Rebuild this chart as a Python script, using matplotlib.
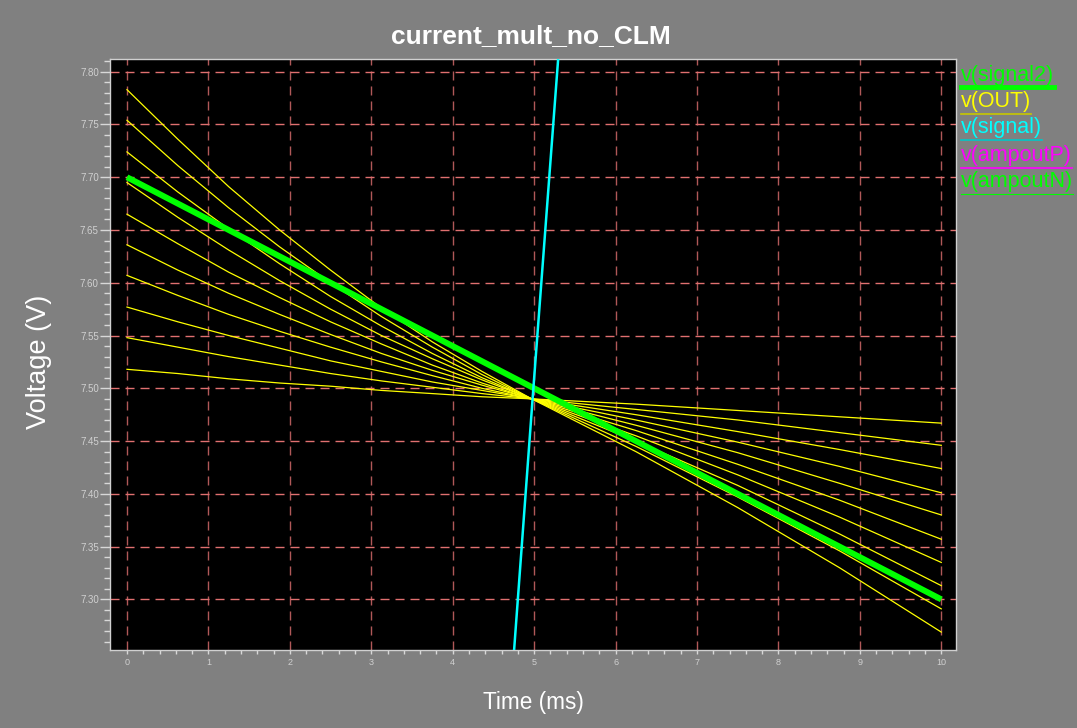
import matplotlib
matplotlib.use('Agg')
import matplotlib.pyplot as plt
from matplotlib.lines import Line2D
import numpy as np

plt.rcParams['font.family'] = ['Liberation Sans', 'DejaVu Sans']

# time samples (ms) for the v(OUT) family
t_out = [0, 0.625, 1.25, 1.875, 2.5, 3.125, 3.75, 4.36, 4.97, 6.25, 7.5, 8.75, 10]
# v(OUT) sweep, one row per curve (V)
v_out = [
    [7.783, 7.736, 7.691, 7.650, 7.612, 7.576, 7.544, 7.516, 7.490, 7.440, 7.387, 7.330, 7.269],
    [7.754, 7.711, 7.671, 7.634, 7.600, 7.568, 7.539, 7.513, 7.490, 7.445, 7.397, 7.346, 7.291],
    [7.724, 7.686, 7.651, 7.618, 7.587, 7.559, 7.533, 7.510, 7.490, 7.450, 7.408, 7.362, 7.313],
    [7.695, 7.662, 7.631, 7.602, 7.575, 7.550, 7.528, 7.508, 7.490, 7.455, 7.418, 7.378, 7.335],
    [7.665, 7.637, 7.610, 7.586, 7.563, 7.542, 7.522, 7.505, 7.490, 7.460, 7.428, 7.394, 7.357],
    [7.636, 7.612, 7.590, 7.570, 7.551, 7.533, 7.517, 7.503, 7.490, 7.465, 7.439, 7.410, 7.380],
    [7.607, 7.588, 7.570, 7.554, 7.539, 7.525, 7.512, 7.500, 7.490, 7.470, 7.449, 7.426, 7.401],
    [7.577, 7.563, 7.550, 7.538, 7.526, 7.516, 7.506, 7.498, 7.490, 7.475, 7.459, 7.442, 7.424],
    [7.548, 7.539, 7.530, 7.522, 7.514, 7.507, 7.501, 7.495, 7.490, 7.480, 7.470, 7.458, 7.446],
    [7.518, 7.514, 7.509, 7.505, 7.502, 7.498, 7.495, 7.492, 7.490, 7.485, 7.479, 7.473, 7.467],
]
# v(signal2)
t_sig2 = [0, 10]
v_sig2 = [7.70, 7.30]
# v(signal) (steep ramp crossing the window)
t_sig = [4.754, 4.98, 5.295]
v_sig = [7.252, 7.489, 7.812]

legend_labels = ['v(signal2)', 'v(OUT)', 'v(signal)', 'v(ampoutP)', 'v(ampoutN)']
legend_colors = ['#00ff00', '#ffff00', '#00ffff', '#ff00ff', '#00ff00']
legend_ulines = ['#00ff00', '#c8c800', '#00c8c8', '#ff00ff', '#00ff00']
legend_uwidth = [3.5, 1.2, 1.2, 1.2, 0.8]

fig = plt.figure(figsize=(10.77, 7.28), dpi=100, facecolor='#808080')
ax = fig.add_axes([0.1021, 0.1071, 0.7855, 0.8118], facecolor='black')

for row in v_out:
    ax.plot(t_out, row, color='#ffff00', lw=0.9, zorder=2)
ax.plot(t_sig2, v_sig2, color='#00ff00', lw=4.3, zorder=3, solid_capstyle='butt')
ax.plot(t_sig, v_sig, color='#00ffff', lw=1.8, zorder=4)

ax.set_xlim(-0.209, 10.18)
ax.set_ylim(7.252, 7.812)
ax.set_xticks(np.arange(0, 11, 1))
ax.set_xticks(np.arange(0, 10.2, 0.2), minor=True)
ax.set_yticks(np.arange(7.30, 7.81, 0.05))
ax.set_yticks(np.arange(7.26, 7.811, 0.01), minor=True)
ax.yaxis.set_major_formatter(matplotlib.ticker.FormatStrFormatter('%.2f'))

ax.xaxis.grid(True, color='#b05858', lw=1.0, linestyle=(0, (6.5, 4.3)))
ax.yaxis.grid(True, color='#e07070', lw=1.0, linestyle=(0, (6.5, 4.3)))
ax.set_axisbelow(True)

for s in ax.spines.values():
    s.set_color('#d0d0d0')
    s.set_linewidth(1.0)
ax.tick_params(axis='y', which='major', length=7, width=1, color='#d8d8d8',
               labelcolor='#d0d0d0', labelsize=7, pad=1)
ax.tick_params(axis='y', which='minor', length=4.5, width=1, color='#d8d8d8')
ax.tick_params(axis='x', which='both', length=3, width=1, color='#d8d8d8',
               labelcolor='#d0d0d0', labelsize=6.5, pad=3)

ax.set_xlabel('Time (ms)', color='white', fontsize=16.3, labelpad=17)
ax.set_ylabel('Voltage (V)', color='white', fontsize=19.5)
ax.yaxis.set_label_coords(-0.069, 0.487)
fig.text(0.4930, 0.9505, 'current_mult_no_CLM', color='white', fontsize=19,
         fontweight='bold', ha='center', va='center')

# legend entries stacked at the right, underlined in their trace colour
fig.canvas.draw()
renderer = fig.canvas.get_renderer()
y_pix = [75, 102, 128, 156, 182]
for lab, col, ucol, uw, yp in zip(legend_labels, legend_colors, legend_ulines, legend_uwidth, y_pix):
    txt = fig.text(961 / 1077, 1 - yp / 728, lab, color=col, fontsize=15.5,
                   ha='left', va='center')
    bb = txt.get_window_extent(renderer=renderer)
    yl = bb.y0 / 728 - 0.002
    fig.add_artist(Line2D([bb.x0 / 1077, bb.x1 / 1077], [yl, yl],
                          color=ucol, lw=uw, transform=fig.transFigure))

fig.savefig('out.png', dpi=100, facecolor=fig.get_facecolor())
